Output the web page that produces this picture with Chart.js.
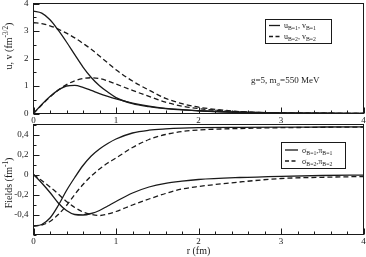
<!DOCTYPE html>
<html>
<head>
<meta charset="utf-8">
<script src="https://cdn.jsdelivr.net/npm/chart.js@4.4.1/dist/chart.umd.min.js"></script>
<style>
  html, body { margin: 0; padding: 0; background: #fff; }
  #wrap { position: relative; width: 366px; height: 257px; }
  canvas { position: absolute; left: 0; top: 0; }
</style>
</head>
<body>
<div id="wrap">
  <canvas id="topChart" width="366" height="257"></canvas>
  <canvas id="bottomChart" width="366" height="257"></canvas>
</div>
<script>
// raio r (fm)
let r = [0, 0.1, 0.2, 0.3, 0.4, 0.5, 0.6, 0.7, 0.8, 0.9, 1.0, 1.2, 1.4, 1.6, 1.8, 2.0, 2.5, 3.0, 3.5, 4.0];

// painel de cima: u, v
let u1 = [3.72, 3.65, 3.41, 3.03, 2.60, 2.14, 1.69, 1.31, 1.01, 0.78, 0.58, 0.36, 0.25, 0.18, 0.13, 0.10, 0.045, 0.02, 0.01, 0.005];
let v1 = [0, 0.33, 0.62, 0.85, 1.00, 1.02, 0.95, 0.84, 0.72, 0.62, 0.53, 0.38, 0.27, 0.19, 0.14, 0.10, 0.045, 0.02, 0.01, 0.005];
let u2 = [3.30, 3.27, 3.19, 3.07, 2.92, 2.75, 2.55, 2.34, 2.09, 1.84, 1.59, 1.18, 0.85, 0.55, 0.36, 0.23, 0.07, 0.02, 0.01, 0.005];
let v2 = [0, 0.31, 0.60, 0.85, 1.05, 1.19, 1.27, 1.30, 1.27, 1.18, 1.07, 0.84, 0.62, 0.41, 0.27, 0.18, 0.065, 0.02, 0.01, 0.005];

// painel de baixo: campos sigma, pi
let sigma1 = [-0.515, -0.50, -0.435, -0.31, -0.16, -0.03, 0.09, 0.185, 0.255, 0.31, 0.355, 0.415, 0.443, 0.456, 0.464, 0.468, 0.472, 0.474, 0.475, 0.476];
let pi1 = [0, -0.085, -0.18, -0.285, -0.36, -0.40, -0.405, -0.39, -0.36, -0.315, -0.27, -0.185, -0.125, -0.088, -0.066, -0.05, -0.03, -0.018, -0.01, -0.006];
let sigma2 = [-0.515, -0.505, -0.47, -0.40, -0.31, -0.20, -0.10, -0.015, 0.055, 0.115, 0.165, 0.27, 0.35, 0.40, 0.43, 0.445, 0.46, 0.468, 0.472, 0.475];
let pi2 = [0, -0.06, -0.125, -0.195, -0.27, -0.33, -0.375, -0.40, -0.41, -0.395, -0.37, -0.305, -0.245, -0.19, -0.145, -0.12, -0.075, -0.04, -0.028, -0.02];

// rotulos dos eixos
let xLabels = [0, 1, 2, 3, 4];
let topYLabels = [0, 1, 2, 3, 4];
let bottomYLabels = [-0.4, -0.2, 0, 0.2, 0.4];

const FONT = "'Liberation Serif', 'Times New Roman', serif";
const INK = '#1a1a1a';
Chart.defaults.font.family = FONT;
Chart.defaults.font.size = 9;
Chart.defaults.color = INK;

function pts(ys) {
    return r.map((x, i) => ({ x: x, y: ys[i] }));
}

function isIn(list, v) {
    return list.some(l => Math.abs(l - v) < 1e-6);
}

function fmt(v) {
    return String(Math.round(v * 10) / 10).replace('.', ',');
}

// texto com sub/sobrescrito: partes [texto, 0 normal | 1 sub | 2 sup]
function drawRich(ctx, parts, x, y, size, align) {
    let w = 0;
    parts.forEach(p => {
        ctx.font = (p[1] ? size * 0.72 : size) + 'px ' + FONT;
        w += ctx.measureText(p[0]).width;
    });
    let cx = align === 'center' ? x - w / 2 : x;
    ctx.textBaseline = 'alphabetic';
    ctx.textAlign = 'left';
    parts.forEach(p => {
        ctx.font = (p[1] ? size * 0.72 : size) + 'px ' + FONT;
        let dy = p[1] === 1 ? size * 0.28 : (p[1] === 2 ? -size * 0.42 : 0);
        ctx.fillText(p[0], cx, y + dy);
        cx += ctx.measureText(p[0]).width;
    });
}

function line(ctx, x1, y1, x2, y2, dash) {
    ctx.beginPath();
    ctx.setLineDash(dash || []);
    ctx.moveTo(x1, y1);
    ctx.lineTo(x2, y2);
    ctx.stroke();
    ctx.setLineDash([]);
}

// moldura e ticks para dentro
const frame = {
    id: 'frame',
    afterDatasetsDraw(chart, args, opts) {
        const ctx = chart.ctx;
        const a = chart.chartArea;
        ctx.save();
        ctx.strokeStyle = INK;
        ctx.lineWidth = 1;
        ctx.strokeRect(a.left, a.top, a.right - a.left, a.bottom - a.top);
        const xs = chart.scales.x;
        xs.ticks.forEach(t => {
            let px = Math.round(xs.getPixelForValue(t.value)) + 0.5;
            let len = isIn(xLabels, t.value) ? 6 : 3;
            line(ctx, px, a.bottom, px, a.bottom - len);
        });
        const ys = chart.scales.y;
        ys.ticks.forEach(t => {
            let py = Math.round(ys.getPixelForValue(t.value)) + 0.5;
            let len = isIn(opts.yMajor, t.value) ? 6 : 3;
            line(ctx, a.left, py, a.left + len, py);
        });

        ctx.fillStyle = INK;
        // titulo do eixo y
        ctx.save();
        ctx.translate(opts.titleX, opts.titleY);
        ctx.rotate(-Math.PI / 2);
        drawRich(ctx, opts.title, 0, 0, 10, 'center');
        ctx.restore();

        // legenda
        const L = opts.legend;
        ctx.lineWidth = 1;
        ctx.strokeRect(L.x + 0.5, L.y + 0.5, L.w, L.h);
        L.items.forEach((it, i) => {
            let yy = L.y + L.first + i * L.gap;
            ctx.lineWidth = 1.3;
            line(ctx, L.x + 4, yy, L.x + 4 + L.sample, yy, it.dash);
            drawRich(ctx, it.parts, L.x + 8 + L.sample, yy + 2.5, 8, 'left');
        });

        if (opts.note) {
            drawRich(ctx, opts.note, opts.noteX, opts.noteY, 9, 'left');
        }
        ctx.restore();
    }
};

function fixWidth(w) {
    return function (scale) {
        scale.width = w;
        scale.paddingTop = 0; scale.paddingBottom = 0;
        scale.paddingLeft = 0; scale.paddingRight = 0;
    };
}

function fixHeight(h) {
    return function (scale) {
        scale.height = h;
        scale.paddingTop = 0; scale.paddingBottom = 0;
        scale.paddingLeft = 0; scale.paddingRight = 0;
    };
}

function ds(ys, dashed) {
    return {
        data: pts(ys),
        borderColor: INK,
        borderWidth: 1.3,
        borderDash: dashed ? [5, 3] : [],
        pointRadius: 0,
        fill: false,
        cubicInterpolationMode: 'monotone'
    };
}

function xScale(height, title) {
    return {
        type: 'linear',
        min: 0, max: 4,
        grid: { drawOnChartArea: false, drawTicks: false },
        border: { display: false },
        ticks: {
            stepSize: 0.2, autoSkip: false, maxRotation: 0, padding: 2,
            callback: v => isIn(xLabels, v) ? fmt(v) : ''
        },
        title: title ? { display: true, text: title, font: { size: 10 }, padding: 0 } : { display: false },
        afterFit: fixHeight(height)
    };
}

function createTop() {
    new Chart(document.getElementById('topChart'), {
        type: 'line',
        data: {
            datasets: [ds(u1, false), ds(v1, false), ds(u2, true), ds(v2, true)]
        },
        options: {
            responsive: false,
            animation: false,
            layout: { padding: { top: 3.5, right: 2.5, left: 0, bottom: 131.5 } },
            plugins: {
                legend: { display: false },
                tooltip: { enabled: false },
                frame: {
                    yMajor: topYLabels,
                    title: [['u, v (fm', 0], ['-3/2', 2], [')', 0]],
                    titleX: 12, titleY: 46,
                    legend: {
                        x: 265, y: 19, w: 66, h: 24, first: 6.5, gap: 11, sample: 11,
                        items: [
                            { dash: [], parts: [['u', 0], ['B=1', 1], [', v', 0], ['B=1', 1]] },
                            { dash: [4, 2.5], parts: [['u', 0], ['B=2', 1], [', v', 0], ['B=2', 1]] }
                        ]
                    },
                    note: [['g=5, m', 0], ['σ', 1], ['=550 MeV', 0]],
                    noteX: 251, noteY: 83
                }
            },
            scales: {
                x: xScale(12),
                y: {
                    min: 0, max: 4,
                    grid: { drawOnChartArea: false, drawTicks: false },
                    border: { display: false },
                    ticks: {
                        stepSize: 0.5, autoSkip: false, padding: 5,
                        callback: v => isIn(topYLabels, v) ? fmt(v) : ''
                    },
                    afterFit: fixWidth(33.5)
                }
            }
        },
        plugins: [frame]
    });
}

function createBottom() {
    new Chart(document.getElementById('bottomChart'), {
        type: 'line',
        data: {
            datasets: [ds(sigma1, false), ds(pi1, false), ds(sigma2, true), ds(pi2, true)]
        },
        options: {
            responsive: false,
            animation: false,
            layout: { padding: { top: 124.5, right: 2.5, left: 0, bottom: 0 } },
            plugins: {
                legend: { display: false },
                tooltip: { enabled: false },
                frame: {
                    yMajor: bottomYLabels,
                    title: [['Fields (fm', 0], ['-1', 2], [')', 0]],
                    titleX: 12, titleY: 183,
                    legend: {
                        x: 281, y: 142, w: 64, h: 26, first: 8, gap: 11, sample: 13,
                        items: [
                            { dash: [], parts: [['σ', 0], ['B=1', 1], [',π', 0], ['B=1', 1]] },
                            { dash: [4, 2.5], parts: [['σ', 0], ['B=2', 1], [',π', 0], ['B=2', 1]] }
                        ]
                    }
                }
            },
            scales: {
                x: xScale(22.5, 'r (fm)'),
                y: {
                    min: -0.6, max: 0.5,
                    grid: { drawOnChartArea: false, drawTicks: false },
                    border: { display: false },
                    ticks: {
                        stepSize: 0.1, autoSkip: false, padding: 5,
                        callback: v => isIn(bottomYLabels, v) ? fmt(v) : ''
                    },
                    afterFit: fixWidth(33.5)
                }
            }
        },
        plugins: [frame]
    });
}

createTop();
createBottom();
</script>
</body>
</html>
